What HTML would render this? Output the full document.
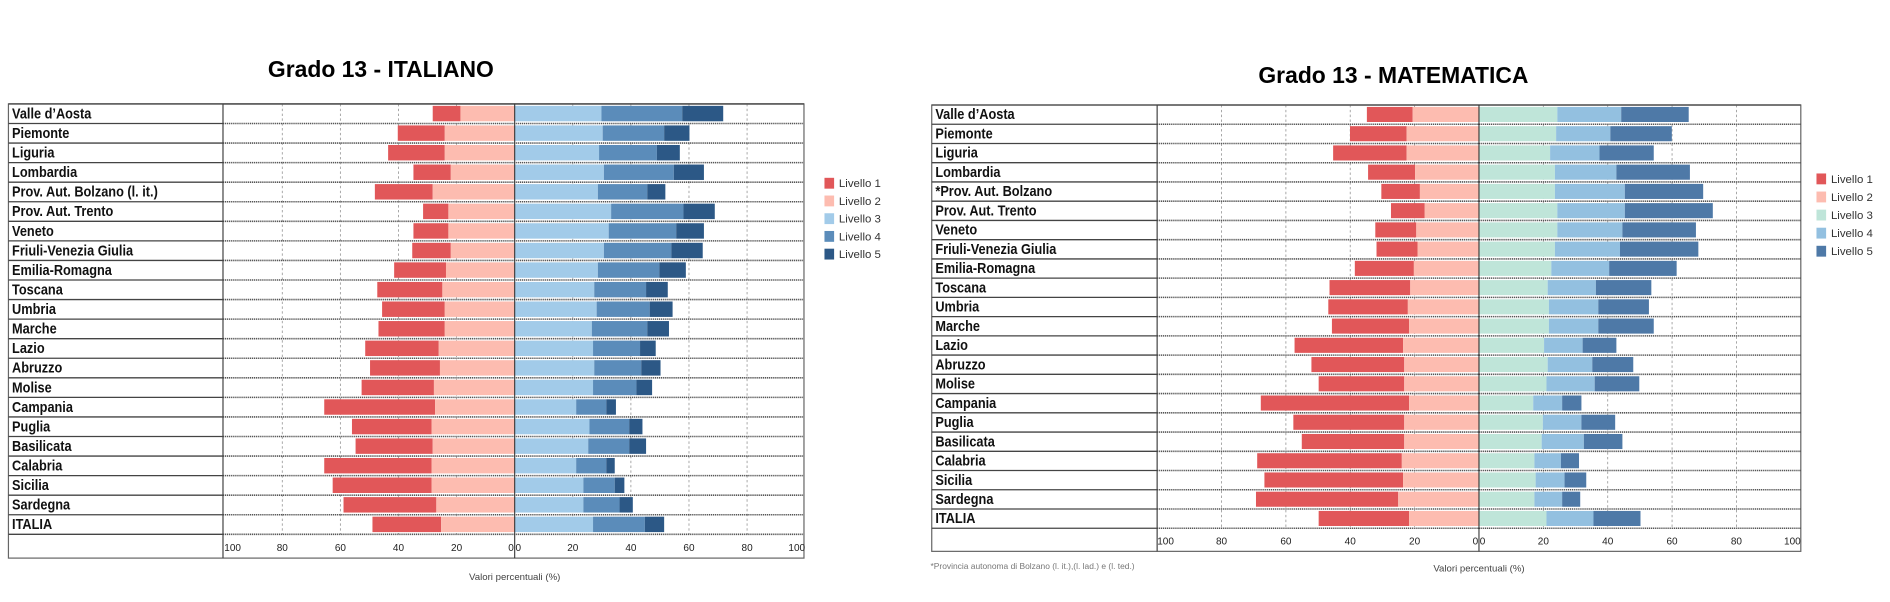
<!DOCTYPE html>
<html><head><meta charset="utf-8">
<style>
html,body{margin:0;padding:0;background:#fff;}
svg{display:block;}
text{font-family:"Liberation Sans",sans-serif;}
</style></head>
<body>
<svg id="s" width="1890" height="602" viewBox="0 0 1568 499.4" xmlns="http://www.w3.org/2000/svg">
<rect width="1568" height="499.4" fill="#fff"/>
<text x="316" y="64" text-anchor="middle" font-size="19" font-weight="bold" fill="#000">Grado 13 - ITALIANO</text>
<text x="1156" y="69" text-anchor="middle" font-size="19" font-weight="bold" fill="#000">Grado 13 - MATEMATICA</text>
<g id="L"></g><g id="R"></g>
<text x="427" y="481" text-anchor="middle" font-size="8" fill="#444">Valori percentuali (%)</text>
<text x="1227" y="474" text-anchor="middle" font-size="8" fill="#444">Valori percentuali (%)</text>
<text x="772" y="472" font-size="7" fill="#777">*Provincia autonoma di Bolzano (l. it.),(l. lad.) e (l. ted.)</text>
</svg>
<script>
var NS="http://www.w3.org/2000/svg";
function el(p,t,a,txt){var e=document.createElementNS(NS,t);for(var k in a)e.setAttribute(k,a[k]);if(txt!==undefined)e.textContent=txt;p.appendChild(e);return e;}
var namesL=["Valle d’Aosta","Piemonte","Liguria","Lombardia","Prov. Aut. Bolzano (l. it.)","Prov. Aut. Trento","Veneto","Friuli-Venezia Giulia","Emilia-Romagna","Toscana","Umbria","Marche","Lazio","Abruzzo","Molise","Campania","Puglia","Basilicata","Calabria","Sicilia","Sardegna","ITALIA"];
var namesR=namesL.slice();namesR[4]="*Prov. Aut. Bolzano";
var dL=[[359,382,499,566,600],[330,369,500,551,572],[322,369,497,545,564],[343,374,501,559,584],[311,359,496,537,552],[351,372,507,567,593],[343,372,505,561,584],[342,374,501,557,583],[327,370,496,547,569],[313,367,493,536,554],[317,369,495,539,558],[314,369,491,537,555],[303,364,492,531,544],[307,365,493,532,548],[300,360,492,528,541],[269,361,478,503,511],[292,358,489,522,533],[295,359,488,522,536],[269,358,478,503,510],[276,358,484,510,518],[285,362,484,514,525],[309,366,492,535,551]];
var dR=[[1134,1172,1292,1345,1401],[1120,1167,1291,1336,1387],[1106,1167,1286,1327,1372],[1135,1174,1290,1341,1402],[1146,1178,1290,1348,1413],[1154,1182,1292,1348,1421],[1141,1175,1292,1346,1407],[1142,1176,1290,1344,1409],[1124,1173,1287,1335,1391],[1103,1170,1284,1324,1370],[1102,1168,1285,1326,1368],[1105,1169,1285,1326,1372],[1074,1164,1281,1313,1341],[1088,1165,1284,1321,1355],[1094,1165,1283,1323,1360],[1046,1169,1272,1296,1312],[1073,1165,1280,1312,1340],[1080,1165,1279,1314,1346],[1043,1163,1273,1295,1310],[1049,1164,1274,1298,1316],[1042,1160,1273,1296,1311],[1094,1169,1283,1322,1361]];
function chart(g,o){
  var x0=o.x0,x1=o.x1,div=o.div,c=o.c,sc=o.sc,top=o.top,p=o.p,bot=o.bot;
  var rb=top+22*p;
  // frame
  el(g,"rect",{x:x0,y:top,width:x1-x0,height:bot-top,fill:"#fff",stroke:"#666","stroke-width":1});
  // grid
  for(var i=1;i<5;i++){
    [c-i*20*sc,c+i*20*sc].forEach(function(x){el(g,"line",{x1:x,y1:top,x2:x,y2:rb,stroke:"#999","stroke-width":0.7,"stroke-dasharray":"2,2"});});
  }
  // bars
  for(var r=0;r<22;r++){
    var y=top+r*p+o.by, h=o.bh, d=o.d[r];
    el(g,"rect",{x:d[0],y:y,width:d[1]-d[0],height:h,fill:o.col[0]});
    el(g,"rect",{x:d[1],y:y,width:c-d[1],height:h,fill:o.col[1]});
    el(g,"rect",{x:c,y:y,width:d[2]-c,height:h,fill:o.col[2]});
    el(g,"rect",{x:d[2],y:y,width:d[3]-d[2],height:h,fill:o.col[3]});
    el(g,"rect",{x:d[3],y:y,width:d[4]-d[3],height:h,fill:o.col[4]});
  }
  // row lines
  for(var r=0;r<=22;r++){
    var y=top+r*p;
    el(g,"line",{x1:x0,y1:y,x2:div,y2:y,stroke:"#444","stroke-width":1.1});
    el(g,"line",{x1:div,y1:y,x2:x1,y2:y,stroke:"#555","stroke-width":1.3,"stroke-dasharray":(r==0?"none":"1,0.6")});
  }
  el(g,"line",{x1:div,y1:top,x2:div,y2:bot,stroke:"#444","stroke-width":1});
  el(g,"line",{x1:c,y1:top,x2:c,y2:bot,stroke:"#333","stroke-width":0.9});
  // labels
  var lg=el(g,"g",{transform:"translate("+(x0+3)+",0) scale(0.86,1)"});
  for(var r=0;r<22;r++){
    el(lg,"text",{x:0,y:top+r*p+p*0.74,"font-size":12.3,fill:"#111","font-weight":"bold"},o.n[r]);
  }
  // ticks
  var ty=rb+(bot-rb)*0.55+3;
  [100,80,60,40,20,0].forEach(function(v,i){
    var x=c-v*sc;var a="middle";if(v==100){x+=7;}if(v==0){x-=3;}
    el(g,"text",{x:x,y:ty,"font-size":8.3,fill:"#222","text-anchor":a},v);
  });
  [0,20,40,60,80,100].forEach(function(v){
    var x=c+v*sc;if(v==0)x+=3;if(v==100)x-=7;
    el(g,"text",{x:x,y:ty,"font-size":8.3,fill:"#222","text-anchor":"middle"},v);
  });
  // legend
  for(var i=0;i<5;i++){
    var ly=o.ly+i*o.lp;
    el(g,"rect",{x:o.lx,y:ly-4.5,width:8,height:9,fill:o.col[i]});
    el(g,"text",{x:o.lx+12,y:ly+3.3,"font-size":9.5,fill:"#333"},"Livello "+(i+1));
  }
}
chart(document.getElementById("L"),{x0:7,x1:667,div:185,c:427,sc:2.41,top:86.2,p:16.23,bot:463,by:1.6,bh:12.8,d:dL,n:namesL,
  col:["#e15759","#fdbcb0","#a2cbe9","#5b8cba","#2c5886"],lx:684,ly:152,lp:14.7});
chart(document.getElementById("R"),{x0:773,x1:1494,div:960,c:1227,sc:2.67,top:87.1,p:15.96,bot:457.4,by:1.6,bh:12.5,d:dR,n:namesR,
  col:["#e15759","#fdbcb0","#bfe5d9","#93c0e0","#4e79a7"],lx:1507,ly:148.4,lp:15});
</script>
</body></html>
